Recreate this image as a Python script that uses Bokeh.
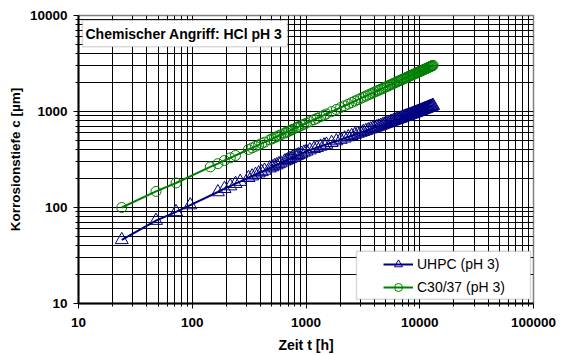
from bokeh.plotting import figure
from bokeh.models import (Legend, LegendItem, BoxAnnotation, Label, FixedTicker,
                          NumeralTickFormatter, Range1d)
from bokeh.embed import file_html
from bokeh.resources import INLINE

# Corrosion depth c [µm] over exposure time t [h], HCl at pH 3
uhpc_t = [24, 48, 72, 96, 168, 192, 216, 240, 264,
          312, 336, 360, 384, 408, 432, 480, 504, 528, 552, 576, 600, 648, 672, 696,
          720, 744, 768, 816, 840, 864, 912, 960, 1008, 1080, 1176, 1248, 1344, 1440,
          1512, 1680, 1848, 2016, 2184, 2352, 2520, 2688, 2856,
          3024, 3192, 3360, 3528, 3696, 3864, 4032, 4200, 4368, 4536, 4704, 4872,
          5040, 5208, 5376, 5544, 5712, 5880, 6048, 6216, 6384, 6552, 6720, 6888,
          7056, 7224, 7392, 7560, 7728, 7896, 8064, 8232, 8400, 8568, 8736, 8904,
          9072, 9240, 9408, 9576, 9744, 9912, 10080, 10248, 10416, 10584, 10752,
          10920, 11088, 11256, 11424, 11592, 11760, 11928, 12096, 12264, 12432,
          12600, 12768, 12936, 13104]
uhpc_c = [46, 73, 90, 106, 145, 157, 167, 177, 186,
          204, 212, 220, 228, 235, 243, 257, 264, 271, 277, 284, 290, 303, 309, 315,
          321, 326, 332, 343, 349, 354, 365, 375, 385, 396, 410, 420, 433, 445,
          454, 473, 492, 510, 526, 543, 559, 574, 589,
          603, 616, 629, 642, 655, 667, 679, 690, 701, 713, 725, 736,
          747, 758, 768, 779, 789, 799, 809, 819, 828, 838, 847, 856,
          865, 874, 883, 892, 900, 909, 917, 925, 933, 941, 949, 958,
          966, 974, 982, 990, 998, 1006, 1014, 1022, 1030, 1038, 1046,
          1054, 1061, 1069, 1076, 1084, 1091, 1099, 1106, 1113, 1120,
          1127, 1133, 1142, 1150]

c30_t = [24, 48, 72, 144, 168, 192, 216, 240,
         312, 336, 360, 384, 408, 432, 480, 504, 528, 552, 576, 600, 648, 672, 696,
         720, 744, 768, 816, 840, 864, 912, 960, 1008, 1080, 1176, 1248, 1344, 1440,
         1512, 1680, 1848, 2016, 2184, 2352, 2520, 2688, 2856,
         3024, 3192, 3360, 3528, 3696, 3864, 4032, 4200, 4368, 4536, 4704, 4872,
         5040, 5208, 5376, 5544, 5712, 5880, 6048, 6216, 6384, 6552, 6720, 6888,
         7056, 7224, 7392, 7560, 7728, 7896, 8064, 8232, 8400, 8568, 8736, 8904,
         9072, 9240, 9408, 9576, 9744, 9912, 10080, 10248, 10416, 10584, 10752,
         10920, 11088, 11256, 11424, 11592, 11760, 11928, 12096, 12264, 12432,
         12600, 12768, 12936, 13104]
c30_c = [100, 147, 180, 265, 286, 309, 329, 348,
         402, 418, 434, 449, 464, 479, 507, 520, 533, 546, 559, 571, 596, 608, 619,
         631, 642, 653, 675, 685, 696, 717, 737, 756, 785, 822, 849, 883, 917,
         942, 997, 1049, 1100, 1148, 1195, 1241, 1285, 1327,
         1369, 1409, 1449, 1488, 1526, 1563, 1599, 1635, 1670, 1704, 1738, 1771,
         1804, 1836, 1868, 1899, 1930, 1961, 1991, 2021, 2050, 2079, 2107, 2135,
         2163, 2191, 2218, 2245, 2272, 2299, 2325, 2351, 2376, 2402, 2427, 2452,
         2477, 2502, 2526, 2550, 2574, 2598, 2622, 2646, 2669, 2692, 2715,
         2738, 2761, 2783, 2805, 2827, 2849, 2871, 2893, 2915, 2937,
         2958, 2979, 3000, 3021]

x_ticks = [10, 100, 1000, 10000, 100000]
y_ticks = [10, 100, 1000, 10000]

FONT = "Liberation Sans"
NAVY = "#000080"
GREEN = "#008000"

p = figure(width=564, height=355, x_axis_type="log", y_axis_type="log",
           x_range=Range1d(10, 100000), y_range=Range1d(10, 10000),
           output_backend="svg", toolbar_location=None,
           min_border_left=78, min_border_right=31, min_border_top=15,
           min_border_bottom=50)
p.background_fill_color = "white"
p.border_fill_color = "white"
p.outline_line_color = "#808080"
p.outline_line_width = 1.5

minor_x = [m * 10 ** e for e in range(1, 5) for m in range(2, 10)]
minor_y = [m * 10 ** e for e in range(1, 4) for m in range(2, 10)]
p.xaxis.ticker = FixedTicker(ticks=x_ticks, minor_ticks=minor_x)
p.yaxis.ticker = FixedTicker(ticks=y_ticks, minor_ticks=minor_y)
p.xaxis.formatter = NumeralTickFormatter(format="0")
p.yaxis.formatter = NumeralTickFormatter(format="0")

for ax in (p.xaxis, p.yaxis):
    ax.axis_line_color = "black"
    ax.axis_line_width = 2
    ax.major_tick_line_color = "black"
    ax.minor_tick_line_color = "black"
    ax.major_tick_in = 0
    ax.major_tick_out = 5
    ax.minor_tick_in = 0
    ax.minor_tick_out = 3
    ax.major_label_text_font = FONT
    ax.major_label_text_font_style = "bold"
    ax.major_label_text_font_size = "13.5px"
    ax.major_label_text_color = "black"
    ax.axis_label_text_font = FONT
    ax.axis_label_text_font_style = "bold"
    ax.axis_label_text_color = "black"

p.xaxis.axis_label = "Zeit t [h]"
p.yaxis.axis_label = "Korrosionstiefe c [µm]"
p.xaxis.axis_label_text_font_size = "14px"
p.yaxis.axis_label_text_font_size = "13.5px"
p.xaxis.major_label_standoff = 9
p.yaxis.major_label_standoff = 6
p.xaxis.axis_label_standoff = 7
p.yaxis.axis_label_standoff = 4

for g in (p.xgrid, p.ygrid):
    g.grid_line_color = "black"
    g.grid_line_width = 1
    g.minor_grid_line_color = "black"
    g.minor_grid_line_width = 1

# measured series
l_u = p.line(uhpc_t, uhpc_c, line_color=NAVY, line_width=2)
s_u = p.scatter(uhpc_t, uhpc_c, marker="triangle", size=13, fill_color=None,
                line_color=NAVY, line_width=1)
l_c = p.line(c30_t, c30_c, line_color=GREEN, line_width=2)
s_c = p.scatter(c30_t, c30_c, marker="circle", size=10, fill_color=None,
                line_color=GREEN, line_width=1)

# header box
p.add_layout(BoxAnnotation(left=4, right=209, bottom=256.7, top=283.3,
                           left_units="screen", right_units="screen",
                           bottom_units="screen", top_units="screen",
                           fill_color="white", fill_alpha=1,
                           line_color="#808080", line_width=1.5))
p.add_layout(Label(x=7, y=270, x_units="screen", y_units="screen",
                   text="Chemischer Angriff: HCl pH 3", text_baseline="middle",
                   text_font=FONT, text_font_style="bold", text_font_size="14px",
                   text_color="black"))

# legend frame and entries
p.add_layout(BoxAnnotation(left=278, right=452, bottom=4.3, top=52.3,
                           left_units="screen", right_units="screen",
                           bottom_units="screen", top_units="screen",
                           fill_color="white", fill_alpha=1,
                           line_color="#808080", line_width=1.5))
legend = Legend(items=[LegendItem(label="UHPC (pH 3)", renderers=[l_u, s_u]),
                       LegendItem(label="C30/37 (pH 3)", renderers=[l_c, s_c])],
                location=(305, 6), padding=0, margin=0, spacing=3,
                glyph_width=30, glyph_height=20, label_height=20, label_standoff=4,
                label_text_font=FONT, label_text_font_size="14px",
                label_text_color="black",
                border_line_alpha=0, background_fill_alpha=0)
p.add_layout(legend)

open("out.html", "w").write(file_html(p, INLINE))
